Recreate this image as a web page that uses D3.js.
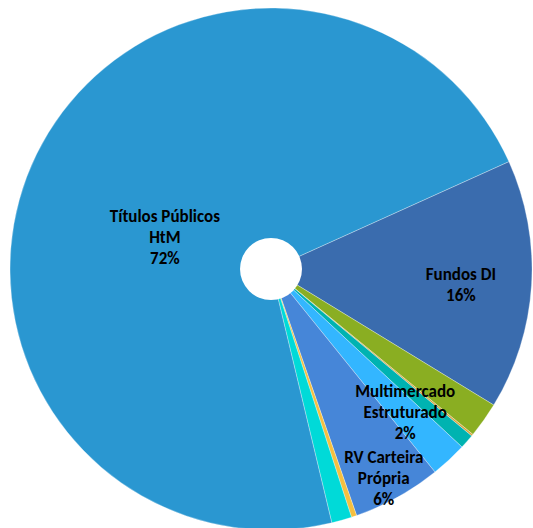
<!DOCTYPE html>
<html>
<head>
<meta charset="utf-8">
<script src="https://cdn.jsdelivr.net/npm/d3@7"></script>
<style>
  body { margin: 0; background: #fff; }
  text { font-family: Carlito, Lato, "Open Sans", sans-serif; font-weight: bold; font-size: 17px; fill: #000; }
</style>
</head>
<body>
<div id="viz"></div>
<script>
// slices in clockwise order, starting from the Fundos DI edge
const categories = ["Fundos DI", "Multimercado", "Outros A", "Crédito", "Multimercado Estruturado",
  "RV Carteira Própria", "Outros B", "Caixa", "Títulos Públicos HtM"];
const values = [15.5, 2.2, 0.12, 0.9, 2.25, 5.5, 0.33, 1.25, 72.1];
const colors = ["#3A6CAE", "#8AAE22", "#D9A43C", "#00B3B1", "#33B6FF",
  "#4686D8", "#F5C040", "#00DAD8", "#2A97D1"];
// which slices carry a label, and the text lines shown
const labelLines = {
  "Fundos DI": ["Fundos DI", "16%"],
  "Multimercado Estruturado": ["Multimercado", "Estruturado", "2%"],
  "RV Carteira Própria": ["RV Carteira", "Própria", "6%"],
  "Títulos Públicos HtM": ["Títulos Públicos", "HtM", "72%"]
};

const width = 533, height = 528;
const cx = 271, cy = 269, radius = 261, hole = 31;
const startDeg = 65.7;

// label placement: fraction of radius, angle shift in degrees from slice middle
const labelPlace = {
  "Fundos DI": [0.73, 1.2],
  "Multimercado Estruturado": [0.75, -0.3],
  "RV Carteira Própria": [0.91, 0.7],
  "Títulos Públicos HtM": [0.425, -9.2]
};

const svg = d3.select("#viz").append("svg")
  .attr("width", width)
  .attr("height", height);

const g = svg.append("g").attr("transform", `translate(${cx},${cy})`);

const data = categories.map((c, i) => ({ name: c, value: values[i], color: colors[i] }));

const pie = d3.pie()
  .sort(null)
  .value(d => d.value)
  .startAngle(startDeg * Math.PI / 180)
  .endAngle(startDeg * Math.PI / 180 + 2 * Math.PI);

const arc = d3.arc().innerRadius(0).outerRadius(radius);
const arcs = pie(data);

g.selectAll("path.slice")
  .data(arcs)
  .enter().append("path")
  .attr("class", "slice")
  .attr("d", arc)
  .attr("fill", d => d.data.color)
  .attr("stroke", "#ffffff")
  .attr("stroke-opacity", 0.5)
  .attr("stroke-width", 0.6);

g.append("circle").attr("r", hole).attr("fill", "#fff");

const lineH = 21;
arcs.filter(d => labelLines[d.data.name]).forEach(d => {
  const lines = labelLines[d.data.name];
  const [rf, shift] = labelPlace[d.data.name];
  const a = (d.startAngle + d.endAngle) / 2 + shift * Math.PI / 180;
  const x = Math.sin(a) * radius * rf;
  const y = -Math.cos(a) * radius * rf;
  const t = g.append("text")
    .attr("text-anchor", "middle")
    .attr("transform", `translate(${x},${y})`);
  lines.forEach((l, i) => {
    t.append("tspan")
      .attr("x", 0)
      .attr("y", (i - (lines.length - 1) / 2) * lineH + 6)
      .text(l);
  });
});
</script>
</body>
</html>
